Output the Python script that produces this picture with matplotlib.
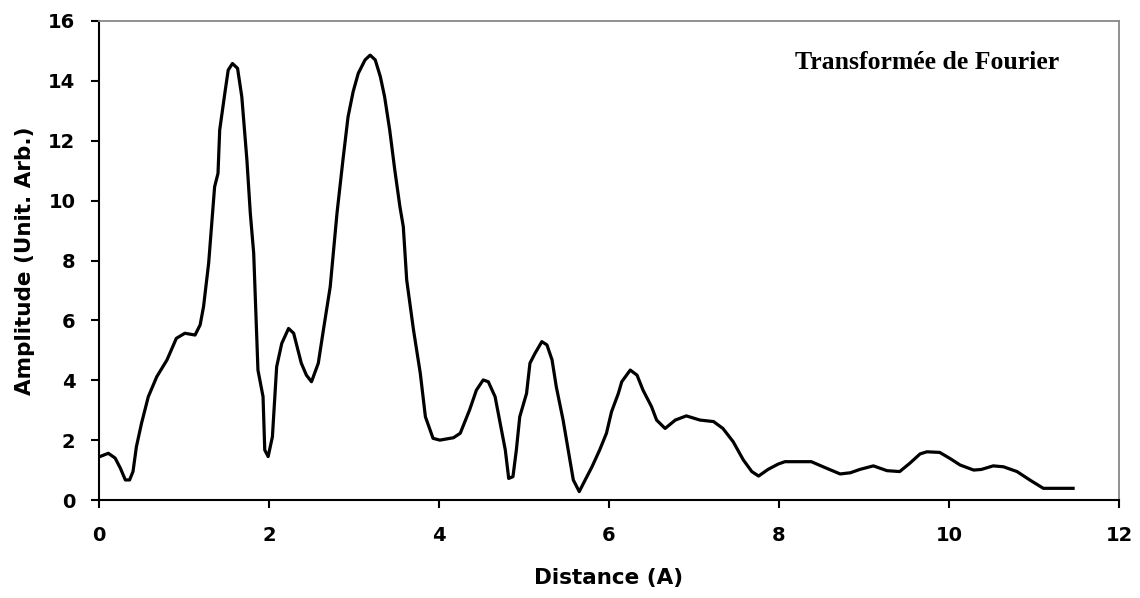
import matplotlib.pyplot as plt
import numpy as np

# distance (A) and amplitude
distance = [0.01, 0.11, 0.19, 0.25, 0.31, 0.36, 0.40, 0.44, 0.50, 0.58, 0.68, 0.80, 0.91,
            1.01, 1.13, 1.19, 1.23, 1.29, 1.33, 1.36, 1.40, 1.42, 1.48, 1.52, 1.57, 1.63,
            1.68, 1.74, 1.78, 1.82, 1.87, 1.93, 1.95, 1.99, 2.04, 2.09, 2.15, 2.23, 2.29,
            2.38, 2.44, 2.50, 2.58, 2.64, 2.72, 2.80, 2.87, 2.93, 2.99, 3.05, 3.13, 3.19,
            3.25, 3.31, 3.36, 3.42, 3.48, 3.54, 3.58, 3.62, 3.70, 3.78, 3.84, 3.93, 4.01,
            4.17, 4.25, 4.36, 4.44, 4.52, 4.58, 4.66, 4.72, 4.78, 4.82, 4.87, 4.91, 4.95,
            5.03, 5.07, 5.13, 5.21, 5.27, 5.33, 5.38, 5.46, 5.52, 5.58, 5.65, 5.70, 5.80,
            5.89, 5.97, 6.03, 6.11, 6.15, 6.25, 6.33, 6.40, 6.50, 6.56, 6.66, 6.78, 6.91,
            7.07, 7.23, 7.34, 7.46, 7.58, 7.68, 7.76, 7.87, 7.99, 8.07, 8.38, 8.56, 8.72,
            8.84, 8.95, 9.11, 9.27, 9.42, 9.54, 9.66, 9.74, 9.89, 10.01, 10.13, 10.29,
            10.38, 10.52, 10.64, 10.80, 10.95, 11.11, 11.46]
amplitude = [1.45, 1.56, 1.40, 1.07, 0.67, 0.67, 0.95, 1.78, 2.56, 3.45, 4.12, 4.68, 5.40,
             5.57, 5.51, 5.85, 6.46, 7.91, 9.35, 10.46, 10.91, 12.36, 13.58, 14.36, 14.58,
             14.42, 13.47, 11.36, 9.58, 8.24, 4.34, 3.45, 1.67, 1.45, 2.11, 4.45, 5.23,
             5.73, 5.57, 4.57, 4.17, 3.95, 4.57, 5.68, 7.12, 9.58, 11.36, 12.80, 13.64,
             14.25, 14.70, 14.86, 14.70, 14.14, 13.47, 12.36, 11.02, 9.80, 9.13, 7.35,
             5.68, 4.23, 2.78, 2.06, 2.00, 2.08, 2.23, 3.01, 3.67, 4.01, 3.95, 3.45, 2.56,
             1.67, 0.72, 0.78, 1.67, 2.78, 3.56, 4.57, 4.90, 5.29, 5.18, 4.68, 3.78, 2.67,
             1.67, 0.67, 0.28, 0.56, 1.11, 1.67, 2.23, 2.95, 3.56, 3.95, 4.34, 4.17, 3.67,
             3.12, 2.67, 2.39, 2.67, 2.81, 2.67, 2.62, 2.39, 1.95, 1.34, 0.95, 0.80, 1.02,
             1.20, 1.28, 1.28, 1.06, 0.87, 0.91, 1.02, 1.14, 0.98, 0.95, 1.23, 1.54, 1.61,
             1.59, 1.39, 1.17, 1.00, 1.02, 1.14, 1.11, 0.95, 0.67, 0.39, 0.39]

x_ticks = np.arange(0, 13, 2)
y_ticks = np.arange(0, 17, 2)

plt.rcParams['font.family'] = ['DejaVu Sans']

fig = plt.figure(figsize=(11.4, 5.98), dpi=100)
ax = fig.add_axes([99/1140, 1 - 500/598, 1020/1140, 479/598])

ax.plot(distance, amplitude, color='black', linewidth=2.3, solid_joinstyle='round')

ax.set_xlim(0, 12)
ax.set_ylim(0, 16)
ax.set_xticks(x_ticks)
ax.set_yticks(y_ticks)
ax.tick_params(direction='out', length=6, width=1.5, labelsize=14)
ax.tick_params(axis='x', pad=13)
ax.tick_params(axis='y', pad=11)
for lab in ax.get_xticklabels() + ax.get_yticklabels():
    lab.set_fontweight('bold')

for side in ['left', 'bottom']:
    ax.spines[side].set_color('black')
    ax.spines[side].set_linewidth(1.5)
for side in ['top', 'right']:
    ax.spines[side].set_color('#888888')
    ax.spines[side].set_linewidth(1.3)

ax.set_xlabel("Distance (A)", fontsize=15.5, fontweight='bold')
ax.set_ylabel("Amplitude (Unit. Arb.)", fontsize=15.5, fontweight='bold')
ax.xaxis.set_label_coords(0.5, -0.142)
ax.yaxis.set_label_coords(-0.063, 0.5)

ax.text(0.682, 0.914, "Transformée de Fourier", transform=ax.transAxes,
        fontsize=18.5, fontweight='bold', family=['Liberation Serif', 'DejaVu Serif'],
        va='center', ha='left')

plt.savefig("out.png", dpi=100)
